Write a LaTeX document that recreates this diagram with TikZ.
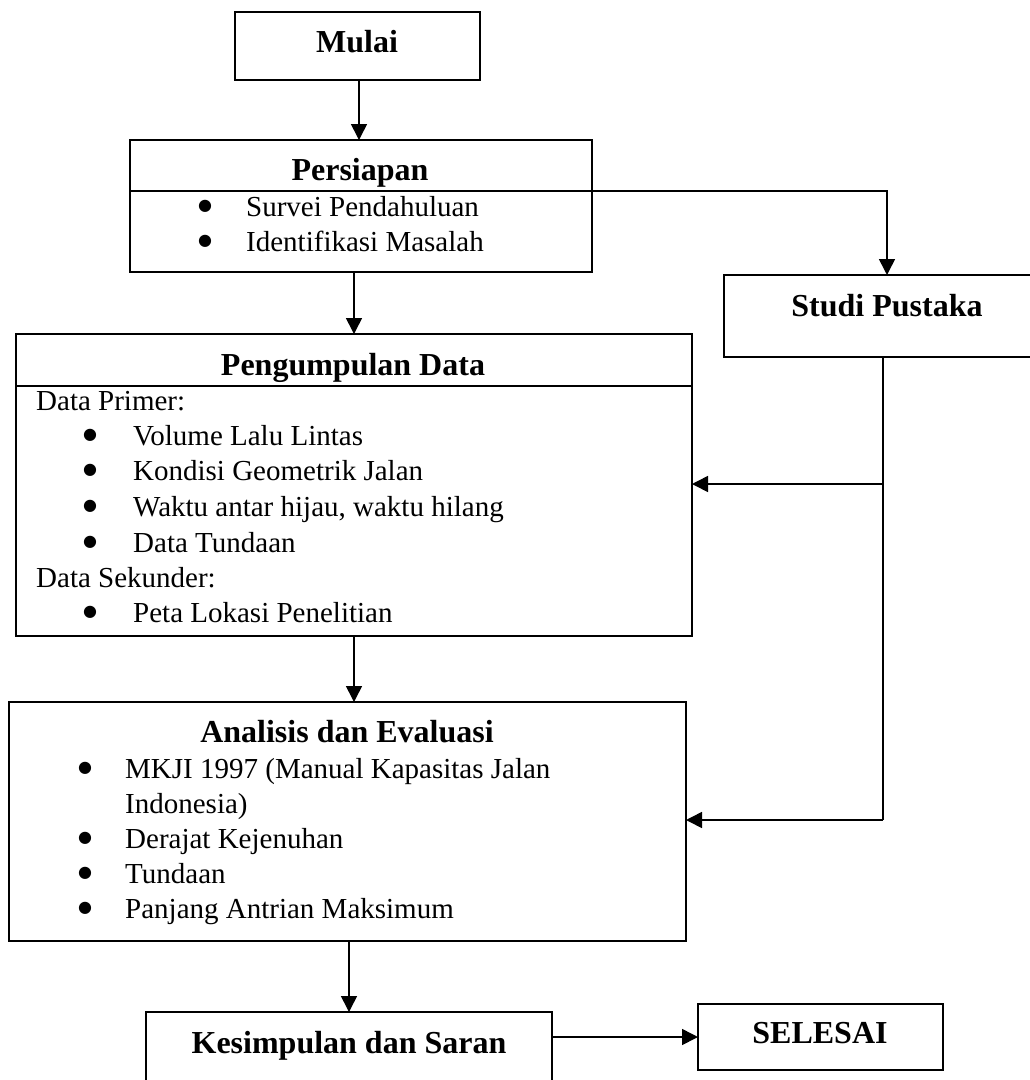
\documentclass[tikz,border=0pt]{standalone}
\usepackage{fontspec}
\setmainfont{Liberation Serif}
\newfontfamily\bulfont{DejaVu Sans}
\usetikzlibrary{arrows.meta}
\tikzset{
  box/.style={draw, line width=1.6pt, inner sep=0pt, outer sep=0pt, anchor=north west},
  ttl/.style={font=\fontsize{32}{38}\selectfont\bfseries, inner sep=0pt, anchor=base},
  txt/.style={font=\fontsize{29}{35}\selectfont, inner sep=0pt, anchor=base west},
  bul/.style={font=\bulfont\fontsize{16}{16}\selectfont, inner sep=0pt, anchor=base, yshift=5.5pt},
  conn/.style={line width=1.6pt},
  arr/.style={line width=1.6pt, -{Triangle[length=16pt,width=16pt]}}
}
\begin{document}
\begin{tikzpicture}[x=1pt, y=-1pt]
\useasboundingbox (0,0) rectangle (1030,1080);
\clip (0,0) rectangle (1030,1080);
\fill[white] (0,0) rectangle (1030,1080);
% boxes
\node[box, minimum width=245, minimum height=68] (mulai) at (235,12) {};
\node[box, minimum width=462, minimum height=132] (persiapan) at (130,140) {};
\node[box, minimum width=326, minimum height=82] (studi) at (724,275) {};
\node[box, minimum width=676, minimum height=302] (pengumpulan) at (16,334) {};
\node[box, minimum width=677, minimum height=239] (analisis) at (9,702) {};
\node[box, minimum width=406, minimum height=80] (kesimpulan) at (146,1012) {};
\node[box, minimum width=245, minimum height=66] (selesai) at (698,1004) {};
% dividers
\draw[conn] (130,191) -- (592,191);
\draw[conn] (16,386) -- (692,386);
% titles
\node[ttl] (tmulai) at (357,52) {Mulai};
\node[ttl] (tpers) at (360,180) {Persiapan};
\node[ttl] (tstudi) at (887,316) {Studi Pustaka};
\node[ttl] (tpeng) at (353,375) {Pengumpulan Data};
\node[ttl] (tanal) at (347,742) {Analisis dan Evaluasi};
\node[ttl] (tkes) at (349,1053) {Kesimpulan dan Saran};
\node[ttl] (tsel) at (820,1043) {SELESAI};
% Persiapan items
\node[bul] (pb1) at (205,216) {●};
\node[txt] (pt1) at (246,216) {Survei Pendahuluan};
\node[bul] (pb2) at (205,251) {●};
\node[txt] (pt2) at (246,251) {Identifikasi Masalah};
% Pengumpulan items
\node[txt] (gh1) at (36,410) {Data Primer:};
\node[bul] (gb1) at (90,445) {●};
\node[txt] (gt1) at (133,445) {Volume Lalu Lintas};
\node[bul] (gb2) at (90,480) {●};
\node[txt] (gt2) at (133,480) {Kondisi Geometrik Jalan};
\node[bul] (gb3) at (90,516) {●};
\node[txt] (gt3) at (133,516) {Waktu antar hijau, waktu hilang};
\node[bul] (gb4) at (90,552) {●};
\node[txt] (gt4) at (133,552) {Data Tundaan};
\node[txt] (gh2) at (36,587) {Data Sekunder:};
\node[bul] (gb5) at (90,622) {●};
\node[txt] (gt5) at (133,622) {Peta Lokasi Penelitian};
% Analisis items
\node[bul] (ab1) at (85,778) {●};
\node[txt] (at1) at (125,778) {MKJI 1997 (Manual Kapasitas Jalan};
\node[txt] (at1b) at (125,813) {Indonesia)};
\node[bul] (ab2) at (85,848) {●};
\node[txt] (at2) at (125,848) {Derajat Kejenuhan};
\node[bul] (ab3) at (85,883) {●};
\node[txt] (at3) at (125,883) {Tundaan};
\node[bul] (ab4) at (85,918) {●};
\node[txt] (at4) at (125,918) {Panjang Antrian Maksimum};
% helper coordinates
\coordinate (xa) at (359,0);
\coordinate (xb) at (354,0);
\coordinate (yd) at (0,191);
\coordinate (v1) at (883,484);
\coordinate (v2) at (883,820);
% connectors
\draw[arr] (mulai.south -| xa) -- (persiapan.north -| xa);
\draw[arr] (persiapan.south -| xb) -- (pengumpulan.north -| xb);
\draw[arr] (persiapan.east |- yd) -| (studi.north);
\draw[conn] (studi.south -| v1) -- (v2);
\draw[arr] (v1) -- (v1 -| pengumpulan.east);
\draw[arr] (v2) -- (v2 -| analisis.east);
\draw[arr] (pengumpulan.south) -- (pengumpulan.south |- analisis.north);
\draw[arr] (kesimpulan.north |- analisis.south) -- (kesimpulan.north);
\draw[arr] (kesimpulan.east |- selesai.west) -- (selesai.west);
\end{tikzpicture}
\end{document}
